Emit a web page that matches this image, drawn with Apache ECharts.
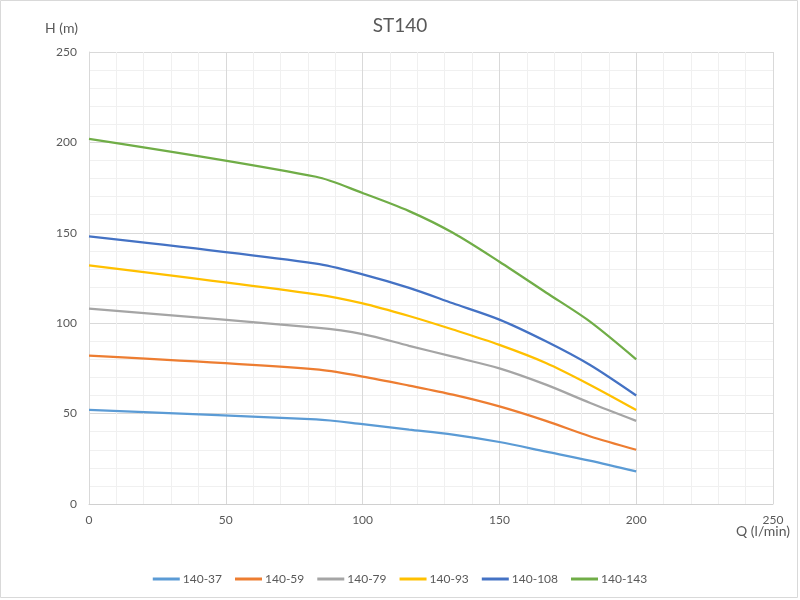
<!DOCTYPE html>
<html>
<head>
<meta charset="utf-8">
<script src="https://cdn.jsdelivr.net/npm/echarts@6/dist/echarts.min.js"></script>
<style>
  html, body { margin: 0; padding: 0; background: #fff; }
  #chart { width: 800px; height: 600px; }
</style>
</head>
<body>
<div id="chart"></div>
<script>
// Flow rate Q (l/min) at which head values are given
const flow = [0, 83, 100, 117, 133, 150, 167, 183, 200];

// Head H (m) for each pump model
const head_140_37  = [52, 46.8, 44.2, 41.2, 38.4, 34.3, 29, 24, 18];
const head_140_59  = [82, 74.5, 70.5, 65.5, 60.5, 54, 46, 37.5, 30];
const head_140_79  = [108, 97.5, 94, 87.5, 81.5, 75, 66, 56, 46];
const head_140_93  = [132, 116, 111, 104, 96.5, 88, 78, 66, 52];
const head_140_108 = [148, 133, 127, 119.5, 111, 102, 90, 77, 60];
const head_140_143 = [202, 181, 172, 162, 150, 134, 117, 101, 80];

const seriesNames = ['140-37', '140-59', '140-79', '140-93', '140-108', '140-143'];
const seriesHeads = [head_140_37, head_140_59, head_140_79, head_140_93, head_140_108, head_140_143];
const colors = ['#5B9BD5', '#ED7D31', '#A5A5A5', '#FFC000', '#4472C4', '#70AD47'];

const FONT = 'Lato, "Open Sans", sans-serif';
const TXT = '#595959';

const chart = echarts.init(document.getElementById('chart'), null, { renderer: 'canvas' });

chart.setOption({
  backgroundColor: '#ffffff',
  animation: false,
  color: colors,
  title: {
    text: 'ST140',
    left: 'center',
    top: 11,
    textStyle: { fontFamily: FONT, fontSize: 19, fontWeight: 'normal', color: TXT }
  },
  grid: { left: 89, right: 27, top: 52, bottom: 96, containLabel: false, outerBoundsMode: 'none' },
  xAxis: {
    type: 'value',
    min: 0, max: 250, interval: 50,
    axisLine: { show: true, lineStyle: { color: '#d0d0d0', width: 1 } },
    axisTick: { show: false },
    axisLabel: { fontFamily: FONT, fontSize: 12, color: TXT, margin: 10 },
    splitLine: { show: true, lineStyle: { color: '#d9d9d9', width: 1 } },
    minorTick: { show: false, splitNumber: 5 },
    minorSplitLine: { show: true, lineStyle: { color: '#f0f0f0', width: 1 } }
  },
  yAxis: {
    type: 'value',
    min: 0, max: 250, interval: 50,
    name: 'H (m)',
    nameLocation: 'end',
    nameGap: 24,
    nameTextStyle: {
      fontFamily: FONT, fontSize: 14, color: TXT,
      align: 'right', verticalAlign: 'middle', padding: [0, 11, 0, 0]
    },
    axisLine: { show: true, lineStyle: { color: '#d9d9d9', width: 1 } },
    axisTick: { show: false },
    axisLabel: { fontFamily: FONT, fontSize: 12, color: TXT, margin: 12 },
    splitLine: { show: true, lineStyle: { color: '#d9d9d9', width: 1 } },
    minorTick: { show: false, splitNumber: 5 },
    minorSplitLine: { show: true, lineStyle: { color: '#f0f0f0', width: 1 } }
  },
  legend: {
    bottom: 10,
    left: 'center',
    icon: 'rect',
    itemWidth: 27,
    itemHeight: 3,
    itemGap: 13,
    textStyle: { fontFamily: FONT, fontSize: 12, color: TXT, padding: [0, 0, 0, -2] },
    data: seriesNames
  },
  graphic: [
    {
      type: 'rect',
      shape: { x: 0.5, y: 0.5, width: 797, height: 597 },
      style: { fill: 'none', stroke: '#d9d9d9', lineWidth: 1 },
      silent: true
    },
    {
      // horizontal axis title, placed under the right end of the axis
      type: 'text',
      right: 10,
      top: 524,
      style: { text: 'Q (l/min)', font: '14px ' + FONT, fill: TXT }
    }
  ],
  series: seriesNames.map((name, i) => ({
    name: name,
    type: 'line',
    smooth: 0.3,
    symbol: 'none',
    lineStyle: { width: 2.25, color: colors[i] },
    data: flow.map((q, k) => [q, seriesHeads[i][k]])
  }))
});
</script>
</body>
</html>
